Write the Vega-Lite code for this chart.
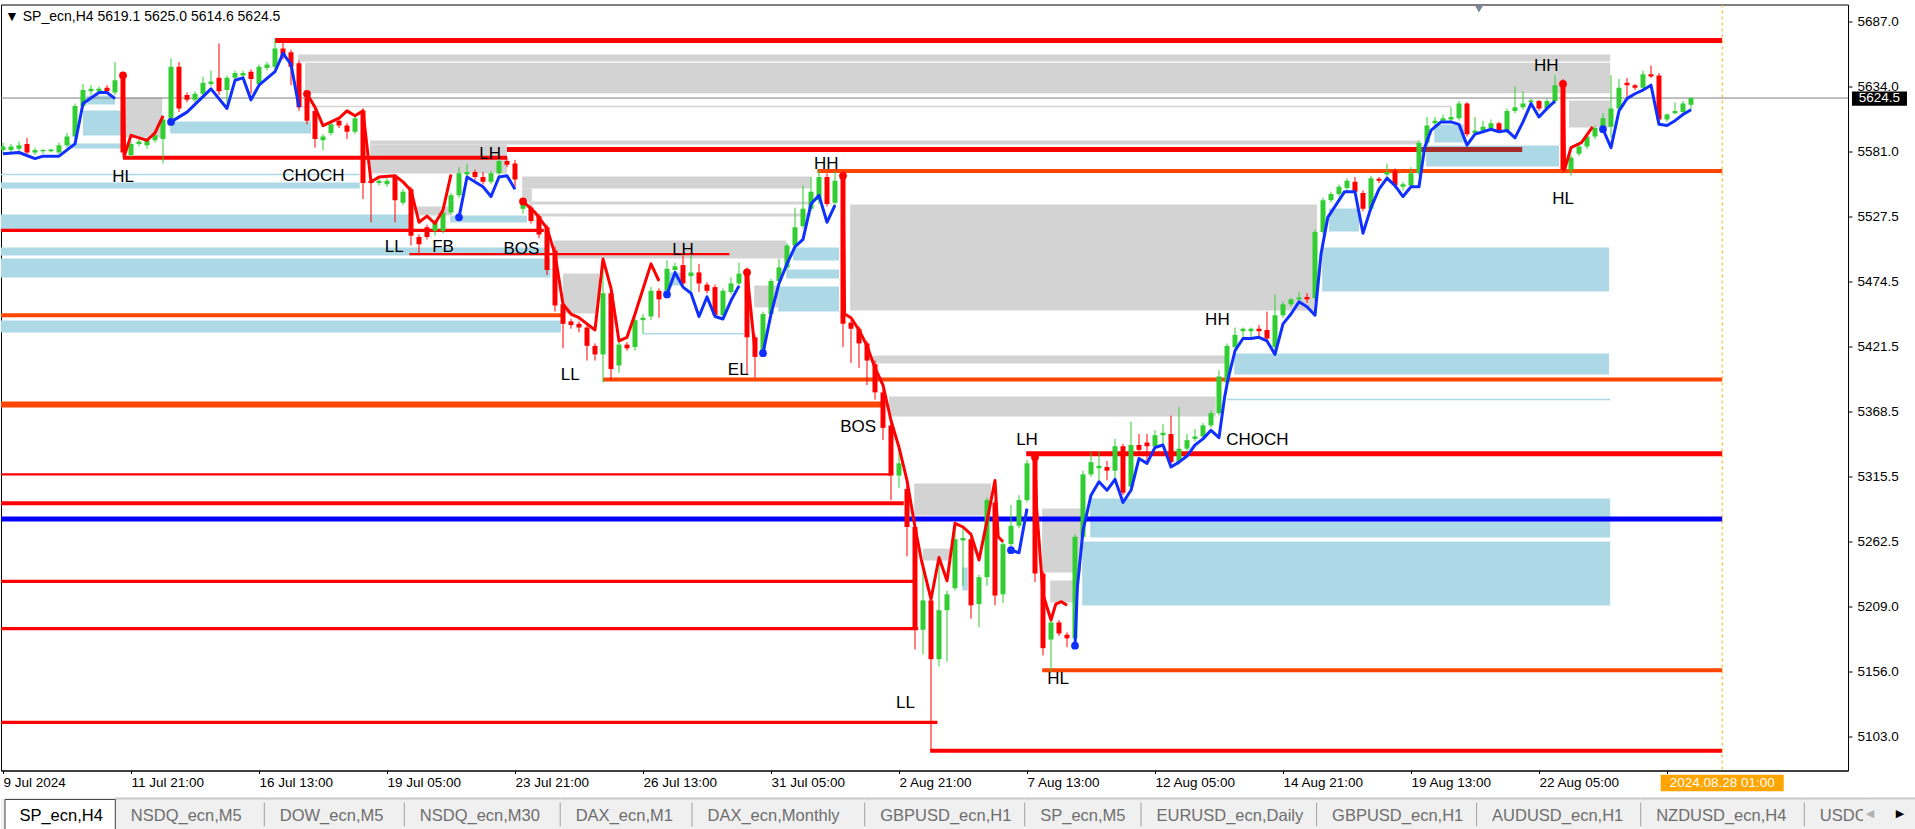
{
  "$schema": "https://vega.github.io/schema/vega-lite/v6.json",
  "autosize": {"type": "pad"},
  "padding": {"left": 0, "top": 3.5, "right": 0, "bottom": 0},
  "background": "#FFFFFF",
  "bounds": "flush",
  "spacing": 28,
  "config": {
    "font": "Liberation Sans",
    "view": {"stroke": null},
    "scale": {"continuousPadding": 0},
    "axis": {"grid": false, "labelFont": "Liberation Sans", "labelFontSize": 13.5, "labelColor": "#000000", "tickColor": "#000000", "domainColor": "#000000", "labelFlush": false, "labelOverlap": false, "labelBound": false},
    "text": {"font": "Liberation Sans"}
  },
  "datasets": {
    "bars": [
      {"i":0,"o":5582,"h":5588,"l":5579,"c":5585},{"i":1,"o":5582,"h":5587,"l":5580,"c":5585},{"i":2,"o":5583,"h":5589,"l":5581,"c":5586},{"i":3,"o":5587,"h":5592,"l":5578,"c":5580},{"i":4,"o":5580,"h":5584,"l":5578,"c":5582},{"i":5,"o":5581,"h":5583,"l":5579,"c":5582},{"i":6,"o":5581,"h":5583,"l":5580,"c":5582.5},{"i":7,"o":5580,"h":5588,"l":5579,"c":5586},{"i":8,"o":5586,"h":5596,"l":5585,"c":5593},{"i":9,"o":5593,"h":5620,"l":5591,"c":5618},
      {"i":10,"o":5618,"h":5636,"l":5616,"c":5631},{"i":11,"o":5630,"h":5635,"l":5627,"c":5632},{"i":12,"o":5630,"h":5634,"l":5628,"c":5632},{"i":13,"o":5633,"h":5635,"l":5628,"c":5630},{"i":14,"o":5629,"h":5654,"l":5627,"c":5639},{"i":15,"o":5640,"h":5643,"l":5576,"c":5580},{"i":16,"o":5578,"h":5589,"l":5576,"c":5587},{"i":17,"o":5587,"h":5591,"l":5585,"c":5589},{"i":18,"o":5586,"h":5591,"l":5583,"c":5590},{"i":19,"o":5590,"h":5596,"l":5588,"c":5594},
      {"i":20,"o":5591,"h":5610,"l":5571,"c":5607},{"i":21,"o":5608,"h":5657,"l":5606,"c":5650},{"i":22,"o":5650,"h":5654,"l":5613,"c":5616},{"i":23,"o":5627,"h":5629,"l":5621,"c":5623},{"i":24,"o":5623,"h":5630,"l":5621,"c":5628},{"i":25,"o":5628,"h":5642,"l":5626,"c":5637},{"i":26,"o":5636,"h":5647,"l":5634,"c":5638},{"i":27,"o":5641,"h":5669,"l":5627,"c":5630},{"i":28,"o":5631,"h":5643,"l":5620,"c":5641},{"i":29,"o":5641,"h":5647,"l":5639,"c":5645},
      {"i":30,"o":5643,"h":5647,"l":5641,"c":5645},{"i":31,"o":5646,"h":5648,"l":5628,"c":5640},{"i":32,"o":5636,"h":5652,"l":5634,"c":5650},{"i":33,"o":5649,"h":5654,"l":5647,"c":5652},{"i":34,"o":5650,"h":5673,"l":5648,"c":5665},{"i":35,"o":5665,"h":5670,"l":5656,"c":5659},{"i":36,"o":5662,"h":5664,"l":5635,"c":5650},{"i":37,"o":5653,"h":5655,"l":5614,"c":5617},{"i":38,"o":5625,"h":5627,"l":5603,"c":5606},{"i":39,"o":5614,"h":5616,"l":5584,"c":5591},
      {"i":40,"o":5590,"h":5595,"l":5582,"c":5593},{"i":41,"o":5596,"h":5605,"l":5594,"c":5603},{"i":42,"o":5606,"h":5608,"l":5600,"c":5602},{"i":43,"o":5602,"h":5604,"l":5591,"c":5597},{"i":44,"o":5597,"h":5610,"l":5595,"c":5608},{"i":45,"o":5614,"h":5616,"l":5542,"c":5555},{"i":46,"o":5557,"h":5558,"l":5523,"c":5555},{"i":47,"o":5555,"h":5559,"l":5553,"c":5557},{"i":48,"o":5554,"h":5559,"l":5552,"c":5557},{"i":49,"o":5561,"h":5562,"l":5523,"c":5541},
      {"i":50,"o":5539,"h":5550,"l":5537,"c":5548},{"i":51,"o":5550,"h":5552,"l":5504,"c":5512},{"i":52,"o":5511,"h":5513,"l":5497,"c":5505},{"i":53,"o":5519,"h":5521,"l":5509,"c":5511},{"i":54,"o":5516,"h":5525,"l":5512,"c":5523},{"i":55,"o":5516,"h":5533,"l":5514,"c":5531},{"i":56,"o":5531,"h":5547,"l":5529,"c":5545},{"i":57,"o":5545,"h":5568,"l":5543,"c":5563},{"i":58,"o":5562,"h":5571,"l":5560,"c":5564},{"i":59,"o":5564,"h":5566,"l":5558,"c":5560},
      {"i":60,"o":5560,"h":5564,"l":5554,"c":5556},{"i":61,"o":5556,"h":5565,"l":5554,"c":5563},{"i":62,"o":5563,"h":5575,"l":5561,"c":5573},{"i":63,"o":5573,"h":5576,"l":5568,"c":5570},{"i":64,"o":5571,"h":5574,"l":5552,"c":5558},{"i":65,"o":5534,"h":5540,"l":5530,"c":5537},{"i":66,"o":5535,"h":5537,"l":5522,"c":5524},{"i":67,"o":5528,"h":5530,"l":5510,"c":5513},{"i":68,"o":5519,"h":5521,"l":5480,"c":5484},{"i":69,"o":5500,"h":5503,"l":5450,"c":5455},
      {"i":70,"o":5456,"h":5459,"l":5420,"c":5440},{"i":71,"o":5442,"h":5444,"l":5436,"c":5439},{"i":72,"o":5440,"h":5442,"l":5433,"c":5437},{"i":73,"o":5437,"h":5439,"l":5410,"c":5422},{"i":74,"o":5422,"h":5424,"l":5410,"c":5415},{"i":75,"o":5415,"h":5493,"l":5392,"c":5465},{"i":76,"o":5465,"h":5467,"l":5394,"c":5403},{"i":77,"o":5406,"h":5425,"l":5400,"c":5423},{"i":78,"o":5423,"h":5425,"l":5418,"c":5420},{"i":79,"o":5421,"h":5446,"l":5418,"c":5443},
      {"i":80,"o":5443,"h":5448,"l":5432,"c":5445},{"i":81,"o":5446,"h":5470,"l":5443,"c":5467},{"i":82,"o":5467,"h":5469,"l":5445,"c":5460},{"i":83,"o":5467,"h":5492,"l":5465,"c":5485},{"i":84,"o":5484,"h":5490,"l":5482,"c":5487},{"i":85,"o":5488,"h":5496,"l":5470,"c":5473},{"i":86,"o":5479,"h":5496,"l":5466,"c":5482},{"i":87,"o":5482,"h":5489,"l":5466,"c":5473},{"i":88,"o":5472,"h":5474,"l":5465,"c":5467},{"i":89,"o":5470,"h":5472,"l":5445,"c":5447},
      {"i":90,"o":5447,"h":5469,"l":5445,"c":5467},{"i":91,"o":5466,"h":5478,"l":5464,"c":5473},{"i":92,"o":5473,"h":5490,"l":5471,"c":5481},{"i":93,"o":5484,"h":5486,"l":5399,"c":5429},{"i":94,"o":5429,"h":5431,"l":5396,"c":5413},{"i":95,"o":5415,"h":5450,"l":5413,"c":5448},{"i":96,"o":5448,"h":5477,"l":5446,"c":5475},{"i":97,"o":5475,"h":5493,"l":5473,"c":5486},{"i":98,"o":5486,"h":5506,"l":5484,"c":5504},{"i":99,"o":5504,"h":5535,"l":5502,"c":5519},
      {"i":100,"o":5520,"h":5553,"l":5518,"c":5534},{"i":101,"o":5534,"h":5560,"l":5532,"c":5548},{"i":102,"o":5541,"h":5566,"l":5538,"c":5560},{"i":103,"o":5560,"h":5563,"l":5536,"c":5538},{"i":104,"o":5539,"h":5565,"l":5537,"c":5557},{"i":105,"o":5561,"h":5565,"l":5421,"c":5440},{"i":106,"o":5441,"h":5443,"l":5408,"c":5436},{"i":107,"o":5436,"h":5438,"l":5404,"c":5424},{"i":108,"o":5424,"h":5426,"l":5390,"c":5410},{"i":109,"o":5407,"h":5410,"l":5378,"c":5384},
      {"i":110,"o":5384,"h":5387,"l":5345,"c":5355},{"i":111,"o":5357,"h":5360,"l":5296,"c":5316},{"i":112,"o":5316,"h":5340,"l":5306,"c":5326},{"i":113,"o":5305,"h":5308,"l":5250,"c":5274},{"i":114,"o":5274,"h":5276,"l":5174,"c":5192},{"i":115,"o":5190,"h":5242,"l":5170,"c":5214},{"i":116,"o":5214,"h":5216,"l":5091,"c":5166},{"i":117,"o":5166,"h":5250,"l":5160,"c":5206},{"i":118,"o":5206,"h":5222,"l":5164,"c":5219},{"i":119,"o":5224,"h":5278,"l":5222,"c":5264},
      {"i":120,"o":5263,"h":5275,"l":5226,"c":5265},{"i":121,"o":5264,"h":5266,"l":5199,"c":5210},{"i":122,"o":5211,"h":5235,"l":5192,"c":5233},{"i":123,"o":5233,"h":5298,"l":5226,"c":5296},{"i":124,"o":5294,"h":5296,"l":5210,"c":5218},{"i":125,"o":5219,"h":5262,"l":5212,"c":5260},{"i":126,"o":5260,"h":5292,"l":5258,"c":5275},{"i":127,"o":5275,"h":5300,"l":5273,"c":5296},{"i":128,"o":5296,"h":5329,"l":5294,"c":5326},{"i":129,"o":5331,"h":5334,"l":5229,"c":5236},
      {"i":130,"o":5236,"h":5238,"l":5169,"c":5175},{"i":131,"o":5182,"h":5199,"l":5156,"c":5196},{"i":132,"o":5196,"h":5198,"l":5185,"c":5187},{"i":133,"o":5186,"h":5188,"l":5176,"c":5183},{"i":134,"o":5183,"h":5268,"l":5181,"c":5266},{"i":135,"o":5266,"h":5320,"l":5264,"c":5317},{"i":136,"o":5317,"h":5335,"l":5315,"c":5327},{"i":137,"o":5322,"h":5336,"l":5312,"c":5324},{"i":138,"o":5323,"h":5328,"l":5312,"c":5320},{"i":139,"o":5320,"h":5346,"l":5312,"c":5340},
      {"i":140,"o":5340,"h":5342,"l":5300,"c":5302},{"i":141,"o":5307,"h":5360,"l":5305,"c":5341},{"i":142,"o":5341,"h":5350,"l":5335,"c":5337},{"i":143,"o":5343,"h":5350,"l":5327,"c":5340},{"i":144,"o":5340,"h":5353,"l":5338,"c":5349},{"i":145,"o":5349,"h":5358,"l":5341,"c":5351},{"i":146,"o":5350,"h":5365,"l":5325,"c":5327},{"i":147,"o":5327,"h":5372,"l":5325,"c":5338},{"i":148,"o":5338,"h":5350,"l":5336,"c":5345},{"i":149,"o":5346,"h":5354,"l":5344,"c":5348},
      {"i":150,"o":5348,"h":5359,"l":5346,"c":5357},{"i":151,"o":5357,"h":5369,"l":5355,"c":5367},{"i":152,"o":5367,"h":5402,"l":5365,"c":5397},{"i":153,"o":5392,"h":5424,"l":5389,"c":5422},{"i":154,"o":5421,"h":5437,"l":5419,"c":5431},{"i":155,"o":5434,"h":5437,"l":5428,"c":5436},{"i":156,"o":5434,"h":5437,"l":5429,"c":5436},{"i":157,"o":5436,"h":5439,"l":5428,"c":5434},{"i":158,"o":5435,"h":5450,"l":5426,"c":5428},{"i":159,"o":5421,"h":5464,"l":5419,"c":5447},
      {"i":160,"o":5447,"h":5458,"l":5445,"c":5456},{"i":161,"o":5456,"h":5461,"l":5454,"c":5460},{"i":162,"o":5460,"h":5466,"l":5457,"c":5461.5},{"i":163,"o":5462,"h":5465,"l":5457,"c":5460},{"i":164,"o":5461,"h":5517,"l":5459,"c":5515},{"i":165,"o":5515,"h":5543,"l":5513,"c":5541},{"i":166,"o":5541,"h":5548,"l":5539,"c":5546},{"i":167,"o":5546,"h":5554,"l":5544,"c":5552},{"i":168,"o":5551,"h":5559,"l":5549,"c":5557},{"i":169,"o":5556,"h":5560,"l":5546,"c":5548},
      {"i":170,"o":5547,"h":5549,"l":5532,"c":5534},{"i":171,"o":5534,"h":5561,"l":5532,"c":5559},{"i":172,"o":5558.5,"h":5560,"l":5555,"c":5557},{"i":173,"o":5562,"h":5571,"l":5560,"c":5564},{"i":174,"o":5565,"h":5567,"l":5551,"c":5553},{"i":175,"o":5552,"h":5556,"l":5549,"c":5554},{"i":176,"o":5553,"h":5568,"l":5551,"c":5563},{"i":177,"o":5563,"h":5590,"l":5561,"c":5588},{"i":178,"o":5588,"h":5609,"l":5586,"c":5602},{"i":179,"o":5604,"h":5609,"l":5602,"c":5606},
      {"i":180,"o":5606,"h":5611,"l":5605,"c":5608},{"i":181,"o":5607,"h":5617,"l":5605,"c":5609},{"i":182,"o":5608,"h":5622,"l":5606,"c":5620},{"i":183,"o":5620,"h":5621,"l":5593,"c":5595},{"i":184,"o":5596,"h":5609,"l":5594,"c":5598},{"i":185,"o":5598,"h":5606,"l":5596,"c":5601},{"i":186,"o":5600,"h":5607,"l":5598,"c":5604},{"i":187,"o":5604,"h":5605,"l":5596,"c":5598},{"i":188,"o":5598,"h":5616,"l":5596,"c":5614},{"i":189,"o":5614,"h":5634,"l":5612,"c":5617},
      {"i":190,"o":5617,"h":5630,"l":5615,"c":5620},{"i":191,"o":5621,"h":5624,"l":5619,"c":5622.5},{"i":192,"o":5622,"h":5623,"l":5614,"c":5616},{"i":193,"o":5616,"h":5624,"l":5614,"c":5622},{"i":194,"o":5622,"h":5643,"l":5620,"c":5635},{"i":195,"o":5635,"h":5640,"l":5563,"c":5566},{"i":196,"o":5566,"h":5578,"l":5561,"c":5576},{"i":197,"o":5579,"h":5587,"l":5577,"c":5585},{"i":198,"o":5585,"h":5595,"l":5583,"c":5593},{"i":199,"o":5593,"h":5602,"l":5591,"c":5600},
      {"i":200,"o":5600,"h":5612,"l":5598,"c":5608},{"i":201,"o":5601,"h":5643,"l":5592,"c":5616},{"i":202,"o":5616,"h":5640,"l":5614,"c":5633},{"i":203,"o":5637,"h":5641,"l":5625,"c":5635},{"i":204,"o":5635,"h":5636,"l":5631,"c":5633},{"i":205,"o":5633,"h":5647,"l":5631,"c":5644},{"i":206,"o":5644,"h":5651,"l":5641,"c":5642},{"i":207,"o":5643,"h":5645,"l":5605,"c":5607},{"i":208,"o":5607,"h":5612,"l":5605,"c":5611},{"i":209,"o":5612,"h":5621,"l":5611,"c":5614},
      {"i":210,"o":5613,"h":5622,"l":5611,"c":5620},{"i":211,"o":5619.1,"h":5625.0,"l":5614.6,"c":5624.5}
    ],
    "trend": [
      {"s":1,"t":"up","i":0,"p":5579},{"s":1,"t":"up","i":2,"p":5580},{"s":1,"t":"up","i":4,"p":5575},{"s":1,"t":"up","i":5,"p":5577},{"s":1,"t":"up","i":7,"p":5577},{"s":1,"t":"up","i":9,"p":5587},{"s":1,"t":"up","i":10,"p":5620},{"s":1,"t":"up","i":12,"p":5629},{"s":1,"t":"up","i":13,"p":5629},{"s":1,"t":"up","i":14,"p":5624},
      {"s":2,"t":"down","i":15,"p":5643},{"s":2,"t":"down","i":15.2,"p":5578},{"s":2,"t":"down","i":16,"p":5594},{"s":2,"t":"down","i":17,"p":5592},{"s":2,"t":"down","i":18,"p":5590},{"s":2,"t":"down","i":19,"p":5596},{"s":2,"t":"down","i":20,"p":5610},
      {"s":3,"t":"up","i":21,"p":5605},{"s":3,"t":"up","i":23,"p":5613},{"s":3,"t":"up","i":26,"p":5632},{"s":3,"t":"up","i":28,"p":5616},{"s":3,"t":"up","i":29,"p":5639},{"s":3,"t":"up","i":30,"p":5641},{"s":3,"t":"up","i":31,"p":5623},{"s":3,"t":"up","i":32,"p":5635},{"s":3,"t":"up","i":34,"p":5646},{"s":3,"t":"up","i":35,"p":5661},{"s":3,"t":"up","i":36,"p":5652},{"s":3,"t":"up","i":37,"p":5617},
      {"s":4,"t":"down","i":38,"p":5628},{"s":4,"t":"down","i":39,"p":5617},{"s":4,"t":"down","i":40,"p":5602},{"s":4,"t":"down","i":41,"p":5605},{"s":4,"t":"down","i":42,"p":5608},{"s":4,"t":"down","i":43,"p":5614},{"s":4,"t":"down","i":44,"p":5610},{"s":4,"t":"down","i":45,"p":5614},{"s":4,"t":"down","i":46,"p":5556},{"s":4,"t":"down","i":47,"p":5560},{"s":4,"t":"down","i":49,"p":5561},{"s":4,"t":"down","i":50,"p":5556},{"s":4,"t":"down","i":51,"p":5549},{"s":4,"t":"down","i":52,"p":5523},{"s":4,"t":"down","i":53,"p":5528},{"s":4,"t":"down","i":54,"p":5522},{"s":4,"t":"down","i":55,"p":5533},{"s":4,"t":"down","i":56,"p":5562},
      {"s":5,"t":"up","i":57,"p":5527},{"s":5,"t":"up","i":58,"p":5560},{"s":5,"t":"up","i":60,"p":5552},{"s":5,"t":"up","i":61,"p":5544},{"s":5,"t":"up","i":62,"p":5560},{"s":5,"t":"up","i":63,"p":5561},{"s":5,"t":"up","i":64,"p":5550},
      {"s":6,"t":"down","i":65,"p":5540},{"s":6,"t":"down","i":66.5,"p":5531},{"s":6,"t":"down","i":68,"p":5518},{"s":6,"t":"down","i":69,"p":5497},{"s":6,"t":"down","i":70,"p":5456},{"s":6,"t":"down","i":71,"p":5448},{"s":6,"t":"down","i":72,"p":5445},{"s":6,"t":"down","i":73,"p":5440},{"s":6,"t":"down","i":74,"p":5435},{"s":6,"t":"down","i":75,"p":5493},{"s":6,"t":"down","i":76,"p":5469},{"s":6,"t":"down","i":77,"p":5426},{"s":6,"t":"down","i":78,"p":5429},{"s":6,"t":"down","i":79,"p":5448},{"s":6,"t":"down","i":81,"p":5489},{"s":6,"t":"down","i":82,"p":5475},
      {"s":7,"t":"up","i":83,"p":5464},{"s":7,"t":"up","i":84,"p":5482},{"s":7,"t":"up","i":85,"p":5470},{"s":7,"t":"up","i":86,"p":5465},{"s":7,"t":"up","i":87,"p":5446},{"s":7,"t":"up","i":88,"p":5462},{"s":7,"t":"up","i":89,"p":5446},{"s":7,"t":"up","i":90,"p":5444},{"s":7,"t":"up","i":91,"p":5459},{"s":7,"t":"up","i":92,"p":5471},
      {"s":8,"t":"down","i":93,"p":5482},{"s":8,"t":"down","i":94,"p":5418},
      {"s":9,"t":"up","i":95,"p":5416},{"s":9,"t":"up","i":96,"p":5448},{"s":9,"t":"up","i":97,"p":5473},{"s":9,"t":"up","i":98,"p":5489},{"s":9,"t":"up","i":99,"p":5503},{"s":9,"t":"up","i":100,"p":5509},{"s":9,"t":"up","i":101,"p":5538},{"s":9,"t":"up","i":102,"p":5545},{"s":9,"t":"up","i":103,"p":5523},{"s":9,"t":"up","i":104,"p":5537},
      {"s":10,"t":"down","i":105,"p":5561},{"s":10,"t":"down","i":105.2,"p":5448},{"s":10,"t":"down","i":106,"p":5445},{"s":10,"t":"down","i":107,"p":5435},{"s":10,"t":"down","i":108,"p":5422},{"s":10,"t":"down","i":109,"p":5404},{"s":10,"t":"down","i":110,"p":5390},{"s":10,"t":"down","i":111,"p":5361},{"s":10,"t":"down","i":112,"p":5339},{"s":10,"t":"down","i":113,"p":5312},{"s":10,"t":"down","i":114,"p":5274},{"s":10,"t":"down","i":114.8,"p":5247},{"s":10,"t":"down","i":116,"p":5215},{"s":10,"t":"down","i":117,"p":5249},{"s":10,"t":"down","i":118,"p":5230},{"s":10,"t":"down","i":119,"p":5277},{"s":10,"t":"down","i":120,"p":5274},{"s":10,"t":"down","i":121,"p":5268},{"s":10,"t":"down","i":122,"p":5247},{"s":10,"t":"down","i":123,"p":5279},{"s":10,"t":"down","i":124,"p":5312},{"s":10,"t":"down","i":124.4,"p":5266},{"s":10,"t":"down","i":125,"p":5262},
      {"s":11,"t":"up","i":126,"p":5255},{"s":11,"t":"up","i":127,"p":5253},{"s":11,"t":"up","i":128,"p":5289},
      {"s":12,"t":"down","i":129,"p":5331},{"s":12,"t":"down","i":129.2,"p":5290},{"s":12,"t":"down","i":130,"p":5219},{"s":12,"t":"down","i":131,"p":5198},{"s":12,"t":"down","i":131.6,"p":5211},{"s":12,"t":"down","i":132.3,"p":5213},{"s":12,"t":"down","i":133,"p":5210},
      {"s":13,"t":"up","i":134,"p":5177},{"s":13,"t":"up","i":134.3,"p":5225},{"s":13,"t":"up","i":135,"p":5271},{"s":13,"t":"up","i":136,"p":5300},{"s":13,"t":"up","i":137,"p":5311},{"s":13,"t":"up","i":138,"p":5304},{"s":13,"t":"up","i":139,"p":5313},{"s":13,"t":"up","i":140,"p":5294},{"s":13,"t":"up","i":141,"p":5304},{"s":13,"t":"up","i":142,"p":5330},{"s":13,"t":"up","i":143,"p":5326},{"s":13,"t":"up","i":144,"p":5339},{"s":13,"t":"up","i":145,"p":5341},{"s":13,"t":"up","i":146,"p":5323},{"s":13,"t":"up","i":147,"p":5327},{"s":13,"t":"up","i":148,"p":5332},{"s":13,"t":"up","i":149,"p":5341},{"s":13,"t":"up","i":150,"p":5346},{"s":13,"t":"up","i":151,"p":5353},{"s":13,"t":"up","i":152,"p":5347},{"s":13,"t":"up","i":152.7,"p":5380},{"s":13,"t":"up","i":153.1,"p":5394},{"s":13,"t":"up","i":154,"p":5418},{"s":13,"t":"up","i":155,"p":5428},{"s":13,"t":"up","i":156,"p":5428},{"s":13,"t":"up","i":157,"p":5429},{"s":13,"t":"up","i":158,"p":5426},{"s":13,"t":"up","i":159,"p":5415},{"s":13,"t":"up","i":160,"p":5440},{"s":13,"t":"up","i":161,"p":5448},{"s":13,"t":"up","i":162,"p":5458},{"s":13,"t":"up","i":163,"p":5454},{"s":13,"t":"up","i":164,"p":5447},{"s":13,"t":"up","i":164.75,"p":5497},{"s":13,"t":"up","i":165.6,"p":5527},{"s":13,"t":"up","i":166.4,"p":5535},{"s":13,"t":"up","i":167.7,"p":5548},{"s":13,"t":"up","i":169,"p":5548},{"s":13,"t":"up","i":170,"p":5514},{"s":13,"t":"up","i":171,"p":5535},{"s":13,"t":"up","i":172,"p":5550},{"s":13,"t":"up","i":173,"p":5559},{"s":13,"t":"up","i":174,"p":5553},{"s":13,"t":"up","i":175,"p":5544},{"s":13,"t":"up","i":176,"p":5552},{"s":13,"t":"up","i":177,"p":5552},{"s":13,"t":"up","i":177.7,"p":5584},{"s":13,"t":"up","i":178.5,"p":5598},{"s":13,"t":"up","i":179.75,"p":5605},{"s":13,"t":"up","i":181,"p":5605},{"s":13,"t":"up","i":182,"p":5603},{"s":13,"t":"up","i":183,"p":5586},{"s":13,"t":"up","i":184,"p":5595},{"s":13,"t":"up","i":185,"p":5597},{"s":13,"t":"up","i":186,"p":5599},{"s":13,"t":"up","i":187,"p":5597},{"s":13,"t":"up","i":188,"p":5598},{"s":13,"t":"up","i":189,"p":5592},{"s":13,"t":"up","i":190,"p":5605},{"s":13,"t":"up","i":191,"p":5620},{"s":13,"t":"up","i":192,"p":5609},{"s":13,"t":"up","i":193,"p":5616},{"s":13,"t":"up","i":194,"p":5622},
      {"s":14,"t":"down","i":195,"p":5636},{"s":14,"t":"down","i":195.2,"p":5566},{"s":14,"t":"down","i":196,"p":5584},{"s":14,"t":"down","i":197.3,"p":5588},{"s":14,"t":"down","i":198.7,"p":5601},
      {"s":15,"t":"up","i":200,"p":5599},{"s":15,"t":"up","i":201,"p":5584},{"s":15,"t":"up","i":202,"p":5614},{"s":15,"t":"up","i":203,"p":5624},{"s":15,"t":"up","i":204,"p":5628},{"s":15,"t":"up","i":205,"p":5631},{"s":15,"t":"up","i":206,"p":5635},{"s":15,"t":"up","i":207,"p":5603},{"s":15,"t":"up","i":208,"p":5602},{"s":15,"t":"up","i":209,"p":5606},{"s":15,"t":"up","i":210,"p":5611},{"s":15,"t":"up","i":211,"p":5615}
    ],
    "dots": [
      {"t":"down","i":15,"p":5643},{"t":"down","i":38,"p":5628},{"t":"down","i":65,"p":5540},{"t":"down","i":93,"p":5482},{"t":"down","i":105,"p":5561},{"t":"down","i":129,"p":5331},{"t":"down","i":195,"p":5636},
      {"t":"up","i":21,"p":5605},{"t":"up","i":57,"p":5527},{"t":"up","i":83,"p":5464},{"t":"up","i":95,"p":5416},{"t":"up","i":126,"p":5255},{"t":"up","i":134,"p":5177},{"t":"up","i":200,"p":5599}
    ],
    "zones": [
      {"kind":"supply","i":36.9,"i2":200.9,"p":5660.1,"p2":5654.4},
      {"kind":"supply","i":37.75,"i2":200.9,"p":5653.3,"p2":5628.5},
      {"kind":"supply","i":15,"i2":19.9,"p":5625,"p2":5592.3},
      {"kind":"supply","i":45.9,"i2":177,"p":5589.8,"p2":5586.5},
      {"kind":"supply","i":45.9,"i2":63,"p":5586.5,"p2":5562.8},
      {"kind":"supply","i":51.75,"i2":55.9,"p":5535.9,"p2":5528.5},
      {"kind":"supply","i":64.9,"i2":101,"p":5560.4,"p2":5550.6},
      {"kind":"supply","i":64.9,"i2":66.1,"p":5550.6,"p2":5540},
      {"kind":"supply","i":65.75,"i2":101,"p":5540,"p2":5537.5},
      {"kind":"supply","i":66.4,"i2":101,"p":5530.2,"p2":5527.7},
      {"kind":"supply","i":68.9,"i2":97.9,"p":5508.1,"p2":5493.4},
      {"kind":"supply","i":70,"i2":74.5,"p":5481.1,"p2":5448.4},
      {"kind":"supply","i":93.9,"i2":96.9,"p":5471.3,"p2":5453.4},
      {"kind":"supply","i":105.9,"i2":164.25,"p":5537.5,"p2":5450.9},
      {"kind":"supply","i":108.75,"i2":152.75,"p":5414.1,"p2":5407.6},
      {"kind":"supply","i":110.75,"i2":151.6,"p":5380.6,"p2":5364.3},
      {"kind":"supply","i":113.9,"i2":123.5,"p":5309.5,"p2":5283.4},
      {"kind":"supply","i":115,"i2":118.5,"p":5256.4,"p2":5246.6},
      {"kind":"supply","i":129.9,"i2":134.75,"p":5289.1,"p2":5236.8},
      {"kind":"supply","i":130.9,"i2":133.75,"p":5230.3,"p2":5212.3},
      {"kind":"supply","i":195.75,"i2":200.9,"p":5622.5,"p2":5600.4},
      {"kind":"demand","i":10.5,"i2":14,"p":5626.6,"p2":5619.2},
      {"kind":"demand","i":10,"i2":15,"p":5614.3,"p2":5593.9},
      {"kind":"demand","i":7.9,"i2":15,"p":5587.4,"p2":5583.3},
      {"kind":"demand","i":20.9,"i2":38.5,"p":5605.3,"p2":5595.5},
      {"kind":"demand","i":-0.25,"i2":44.6,"p":5555.5,"p2":5550.6},
      {"kind":"demand","i":-0.25,"i2":50.75,"p":5529.3,"p2":5517.1},
      {"kind":"demand","i":-0.25,"i2":68.1,"p":5502.4,"p2":5495.8},
      {"kind":"demand","i":-0.25,"i2":68.4,"p":5493.4,"p2":5477.9},
      {"kind":"demand","i":55.9,"i2":65.5,"p":5528.5,"p2":5522.8},
      {"kind":"demand","i":-0.25,"i2":69.75,"p":5442.7,"p2":5432.9},
      {"kind":"demand","i":83.1,"i2":85,"p":5482,"p2":5471.3},
      {"kind":"demand","i":98.75,"i2":104.5,"p":5502.4,"p2":5491.8},
      {"kind":"demand","i":97.9,"i2":104.5,"p":5484.4,"p2":5477},
      {"kind":"demand","i":96.9,"i2":104.5,"p":5470.5,"p2":5450.1},
      {"kind":"demand","i":135.9,"i2":200.9,"p":5297.3,"p2":5265.4},
      {"kind":"demand","i":134.9,"i2":200.9,"p":5262.1,"p2":5209.9},
      {"kind":"demand","i":119.9,"i2":120.6,"p":5240.9,"p2":5222.1},
      {"kind":"demand","i":178.9,"i2":182.6,"p":5602.9,"p2":5588.2},
      {"kind":"demand","i":177.9,"i2":194.5,"p":5585.7,"p2":5568.6},
      {"kind":"demand","i":165.75,"i2":169.5,"p":5534.2,"p2":5515.4},
      {"kind":"demand","i":164.9,"i2":200.75,"p":5502.4,"p2":5466.4},
      {"kind":"demand","i":153.9,"i2":200.75,"p":5415.8,"p2":5398.6}
    ],
    "levels": [
      {"kind":"lblue","i":-0.25,"i2":44.6,"p":5562},
      {"kind":"lblue","i":80,"i2":92.6,"p":5431.9},
      {"kind":"lblue","i":153,"i2":200.9,"p":5378.2},
      {"kind":"lgray","i":37,"i2":181,"p":5617.6},
      {"kind":"red5","i":34,"i2":214.9,"p":5671.5},
      {"kind":"red5","i":63,"i2":177.25,"p":5582.4},
      {"kind":"red5","i":127.9,"i2":214.9,"p":5333.8},
      {"kind":"brown5","i":177.25,"i2":189.9,"p":5582.4},
      {"kind":"red4","i":15,"i2":63,"p":5575.7},
      {"kind":"red4","i":-0.25,"i2":112.6,"p":5293.4},
      {"kind":"red4","i":115.9,"i2":214.9,"p":5091.1},
      {"kind":"red3","i":-0.25,"i2":67.6,"p":5516.3},
      {"kind":"red3","i":-0.25,"i2":113.8,"p":5229.5},
      {"kind":"red3","i":-0.25,"i2":114.4,"p":5191},
      {"kind":"red3","i":-0.25,"i2":116.8,"p":5114.3},
      {"kind":"red2","i":50.8,"i2":90.8,"p":5497},
      {"kind":"red2","i":-0.25,"i2":110.9,"p":5317},
      {"kind":"org4","i":101.8,"i2":214.9,"p":5564.8},
      {"kind":"org4","i":-0.25,"i2":69.8,"p":5447},
      {"kind":"org4","i":75,"i2":214.9,"p":5394.5},
      {"kind":"org4","i":129.9,"i2":214.9,"p":5157},
      {"kind":"org6","i":-0.25,"i2":109.9,"p":5374},
      {"kind":"blue5","i":-0.25,"i2":214.9,"p":5280.6}
    ],
    "labels": [
      {"t":"HL","i":15,"p":5560},{"t":"CHOCH","i":38.8,"p":5561},{"t":"LL","i":48.9,"p":5503},{"t":"FB","i":55,"p":5503},{"t":"LH","i":60.9,"p":5579},{"t":"BOS","i":64.8,"p":5501},
      {"t":"LH","i":85,"p":5500},{"t":"HH","i":102.9,"p":5571},{"t":"LL","i":70.9,"p":5398},{"t":"EL","i":91.9,"p":5402},{"t":"BOS","i":106.9,"p":5356},{"t":"LL","i":112.8,"p":5130},
      {"t":"LH","i":128,"p":5345},{"t":"HL","i":131.9,"p":5150},{"t":"CHOCH","i":156.8,"p":5345},{"t":"HH","i":151.8,"p":5443},{"t":"HH","i":192.9,"p":5651},{"t":"HL","i":195,"p":5542}
    ],
    "header": [{"t": "▼ SP_ecn,H4  5619.1 5625.0 5614.6 5624.5"}],
    "last": [{"p": 5624.5}],
    "cursor": [{"i": 214.9, "label": "2024.08.28 01:00"}],
    "marker": [{"i": 184.5}],
    "tabs": [
      {"n":0,"tab":"","w":4,"kind":"spacer"},
      {"n":1,"tab":"SP_ecn,H4","w":110.3,"kind":"active"},
      {"n":2,"tab":"NSDQ_ecn,M5","w":149,"kind":"tab"},
      {"n":3,"tab":"DOW_ecn,M5","w":140,"kind":"tab"},
      {"n":4,"tab":"NSDQ_ecn,M30","w":155.9,"kind":"tab"},
      {"n":5,"tab":"DAX_ecn,M1","w":131.8,"kind":"tab"},
      {"n":6,"tab":"DAX_ecn,Monthly","w":172.7,"kind":"tab"},
      {"n":7,"tab":"GBPUSD_ecn,H1","w":160,"kind":"tab"},
      {"n":8,"tab":"SP_ecn,M5","w":116.3,"kind":"tab"},
      {"n":9,"tab":"EURUSD_ecn,Daily","w":175.6,"kind":"tab"},
      {"n":10,"tab":"GBPUSD_ecn,H1","w":160,"kind":"tab"},
      {"n":11,"tab":"AUDUSD_ecn,H1","w":164.1,"kind":"tab"},
      {"n":12,"tab":"NZDUSD_ecn,H4","w":163.6,"kind":"tab"},
      {"n":13,"tab":"USDC","w":58.7,"kind":"cut"},
      {"n":14,"tab":"◀","w":14,"kind":"arrowoff"},
      {"n":15,"tab":"▶","w":38,"kind":"arrowon"}
    ]
  },
  "vconcat": [
    {
      "width": 1847,
      "height": 766,
      "view": {"stroke": "#000000", "strokeWidth": 1},
      "layer": [
        {
          "data": {"name": "zones"},
          "mark": {"type": "rect", "clip": true},
          "encoding": {
            "x": {"field": "i", "type": "quantitative", "scale": {"domain": [-0.25, 230.625], "nice": false, "zero": false, "padding": 0},
              "axis": {"orient": "bottom", "title": null, "values": [0,16,32,48,64,80,96,112,128,144,160,176,192,208],
                "labelExpr": "['9 Jul 2024','11 Jul 21:00','16 Jul 13:00','19 Jul 05:00','23 Jul 21:00','26 Jul 13:00','31 Jul 05:00','2 Aug 21:00','7 Aug 13:00','12 Aug 05:00','14 Aug 21:00','19 Aug 13:00','22 Aug 05:00',''][round(datum.value/16)]",
                "labelAlign": "left", "labelBaseline": "middle", "labelPadding": 9, "tickSize": 3}},
            "x2": {"field": "i2"},
            "y": {"field": "p", "type": "quantitative", "scale": {"domain": [5075.03, 5700.93], "nice": false, "zero": false, "padding": 0},
              "axis": {"orient": "right", "title": null, "values": [5103, 5156, 5209, 5262.5, 5315.5, 5368.5, 5421.5, 5474.5, 5527.5, 5581, 5634, 5687], "format": ".1f",
                "labelAlign": "left", "labelBaseline": "middle", "labelPadding": 5, "tickSize": 4}},
            "y2": {"field": "p2"},
            "color": {"condition": {"test": "datum.kind === 'supply'", "value": "#D3D3D3"}, "value": "#ADD8E6"}
          }
        },
        {
          "data": {"name": "levels"},
          "mark": {"type": "rule", "clip": true},
          "encoding": {
            "x": {"field": "i", "type": "quantitative", "scale": {"domain": [-0.25, 230.625], "nice": false, "zero": false, "padding": 0},
              "axis": {"orient": "bottom", "title": null, "values": [0,16,32,48,64,80,96,112,128,144,160,176,192,208],
                "labelExpr": "['9 Jul 2024','11 Jul 21:00','16 Jul 13:00','19 Jul 05:00','23 Jul 21:00','26 Jul 13:00','31 Jul 05:00','2 Aug 21:00','7 Aug 13:00','12 Aug 05:00','14 Aug 21:00','19 Aug 13:00','22 Aug 05:00',''][round(datum.value/16)]",
                "labelAlign": "left", "labelBaseline": "middle", "labelPadding": 9, "tickSize": 3}},
            "x2": {"field": "i2"},
            "y": {"field": "p", "type": "quantitative", "scale": {"domain": [5075.03, 5700.93], "nice": false, "zero": false, "padding": 0},
              "axis": {"orient": "right", "title": null, "values": [5103, 5156, 5209, 5262.5, 5315.5, 5368.5, 5421.5, 5474.5, 5527.5, 5581, 5634, 5687], "format": ".1f",
                "labelAlign": "left", "labelBaseline": "middle", "labelPadding": 5, "tickSize": 4}},
            "color": {"condition": [
              {"test": "datum.kind === 'org4' || datum.kind === 'org6'", "value": "#FF4500"},
              {"test": "datum.kind === 'blue5'", "value": "#0000FF"},
              {"test": "datum.kind === 'brown5'", "value": "#A52A2A"},
              {"test": "datum.kind === 'lblue'", "value": "#ADD8E6"},
              {"test": "datum.kind === 'lgray'", "value": "#D3D3D3"}
            ], "value": "#FF0000"},
            "strokeWidth": {"condition": [
              {"test": "datum.kind === 'red5' || datum.kind === 'brown5' || datum.kind === 'blue5'", "value": 5},
              {"test": "datum.kind === 'red4' || datum.kind === 'org4'", "value": 4},
              {"test": "datum.kind === 'red3'", "value": 3.3},
              {"test": "datum.kind === 'red2'", "value": 2.3},
              {"test": "datum.kind === 'org6'", "value": 6}
            ], "value": 1.5}
          }
        },
        {
          "data": {"name": "last"},
          "mark": {"type": "rule", "color": "#808080", "strokeWidth": 1, "clip": true},
          "encoding": {
            "y": {"field": "p", "type": "quantitative", "scale": {"domain": [5075.03, 5700.93], "nice": false, "zero": false, "padding": 0},
              "axis": {"orient": "right", "title": null, "values": [5103, 5156, 5209, 5262.5, 5315.5, 5368.5, 5421.5, 5474.5, 5527.5, 5581, 5634, 5687], "format": ".1f",
                "labelAlign": "left", "labelBaseline": "middle", "labelPadding": 5, "tickSize": 4}}
          }
        },
        {
          "data": {"name": "cursor"},
          "mark": {"type": "rule", "color": "#FFA500", "strokeWidth": 1, "strokeDash": [3, 3], "clip": true},
          "encoding": {
            "x": {"field": "i", "type": "quantitative", "scale": {"domain": [-0.25, 230.625], "nice": false, "zero": false, "padding": 0},
              "axis": {"orient": "bottom", "title": null, "values": [0,16,32,48,64,80,96,112,128,144,160,176,192,208],
                "labelExpr": "['9 Jul 2024','11 Jul 21:00','16 Jul 13:00','19 Jul 05:00','23 Jul 21:00','26 Jul 13:00','31 Jul 05:00','2 Aug 21:00','7 Aug 13:00','12 Aug 05:00','14 Aug 21:00','19 Aug 13:00','22 Aug 05:00',''][round(datum.value/16)]",
                "labelAlign": "left", "labelBaseline": "middle", "labelPadding": 9, "tickSize": 3}}
          }
        },
        {
          "data": {"name": "bars"},
          "mark": {"type": "rule", "strokeWidth": 1, "clip": true},
          "encoding": {
            "x": {"field": "i", "type": "quantitative", "scale": {"domain": [-0.25, 230.625], "nice": false, "zero": false, "padding": 0},
              "axis": {"orient": "bottom", "title": null, "values": [0,16,32,48,64,80,96,112,128,144,160,176,192,208],
                "labelExpr": "['9 Jul 2024','11 Jul 21:00','16 Jul 13:00','19 Jul 05:00','23 Jul 21:00','26 Jul 13:00','31 Jul 05:00','2 Aug 21:00','7 Aug 13:00','12 Aug 05:00','14 Aug 21:00','19 Aug 13:00','22 Aug 05:00',''][round(datum.value/16)]",
                "labelAlign": "left", "labelBaseline": "middle", "labelPadding": 9, "tickSize": 3}},
            "y": {"field": "l", "type": "quantitative", "scale": {"domain": [5075.03, 5700.93], "nice": false, "zero": false, "padding": 0},
              "axis": {"orient": "right", "title": null, "values": [5103, 5156, 5209, 5262.5, 5315.5, 5368.5, 5421.5, 5474.5, 5527.5, 5581, 5634, 5687], "format": ".1f",
                "labelAlign": "left", "labelBaseline": "middle", "labelPadding": 5, "tickSize": 4}},
            "y2": {"field": "h"},
            "color": {"condition": {"test": "datum.c >= datum.o", "value": "#32CD32"}, "value": "#FF0000"}
          }
        },
        {
          "data": {"name": "bars"},
          "mark": {"type": "bar", "size": 5, "clip": true},
          "encoding": {
            "x": {"field": "i", "type": "quantitative", "scale": {"domain": [-0.25, 230.625], "nice": false, "zero": false, "padding": 0},
              "axis": {"orient": "bottom", "title": null, "values": [0,16,32,48,64,80,96,112,128,144,160,176,192,208],
                "labelExpr": "['9 Jul 2024','11 Jul 21:00','16 Jul 13:00','19 Jul 05:00','23 Jul 21:00','26 Jul 13:00','31 Jul 05:00','2 Aug 21:00','7 Aug 13:00','12 Aug 05:00','14 Aug 21:00','19 Aug 13:00','22 Aug 05:00',''][round(datum.value/16)]",
                "labelAlign": "left", "labelBaseline": "middle", "labelPadding": 9, "tickSize": 3}},
            "y": {"field": "o", "type": "quantitative", "scale": {"domain": [5075.03, 5700.93], "nice": false, "zero": false, "padding": 0},
              "axis": {"orient": "right", "title": null, "values": [5103, 5156, 5209, 5262.5, 5315.5, 5368.5, 5421.5, 5474.5, 5527.5, 5581, 5634, 5687], "format": ".1f",
                "labelAlign": "left", "labelBaseline": "middle", "labelPadding": 5, "tickSize": 4}},
            "y2": {"field": "c"},
            "color": {"condition": {"test": "datum.c >= datum.o", "value": "#32CD32"}, "value": "#FF0000"}
          }
        },
        {
          "data": {"name": "trend"},
          "transform": [{"filter": "datum.t === 'down'"}],
          "mark": {"type": "line", "color": "#FF0000", "strokeWidth": 3, "strokeJoin": "round", "clip": true},
          "encoding": {
            "x": {"field": "i", "type": "quantitative", "scale": {"domain": [-0.25, 230.625], "nice": false, "zero": false, "padding": 0},
              "axis": {"orient": "bottom", "title": null, "values": [0,16,32,48,64,80,96,112,128,144,160,176,192,208],
                "labelExpr": "['9 Jul 2024','11 Jul 21:00','16 Jul 13:00','19 Jul 05:00','23 Jul 21:00','26 Jul 13:00','31 Jul 05:00','2 Aug 21:00','7 Aug 13:00','12 Aug 05:00','14 Aug 21:00','19 Aug 13:00','22 Aug 05:00',''][round(datum.value/16)]",
                "labelAlign": "left", "labelBaseline": "middle", "labelPadding": 9, "tickSize": 3}},
            "y": {"field": "p", "type": "quantitative", "scale": {"domain": [5075.03, 5700.93], "nice": false, "zero": false, "padding": 0},
              "axis": {"orient": "right", "title": null, "values": [5103, 5156, 5209, 5262.5, 5315.5, 5368.5, 5421.5, 5474.5, 5527.5, 5581, 5634, 5687], "format": ".1f",
                "labelAlign": "left", "labelBaseline": "middle", "labelPadding": 5, "tickSize": 4}},
            "detail": {"field": "s", "type": "nominal"}
          }
        },
        {
          "data": {"name": "trend"},
          "transform": [{"filter": "datum.t === 'up'"}],
          "mark": {"type": "line", "color": "#1030FF", "strokeWidth": 3, "strokeJoin": "round", "clip": true},
          "encoding": {
            "x": {"field": "i", "type": "quantitative", "scale": {"domain": [-0.25, 230.625], "nice": false, "zero": false, "padding": 0},
              "axis": {"orient": "bottom", "title": null, "values": [0,16,32,48,64,80,96,112,128,144,160,176,192,208],
                "labelExpr": "['9 Jul 2024','11 Jul 21:00','16 Jul 13:00','19 Jul 05:00','23 Jul 21:00','26 Jul 13:00','31 Jul 05:00','2 Aug 21:00','7 Aug 13:00','12 Aug 05:00','14 Aug 21:00','19 Aug 13:00','22 Aug 05:00',''][round(datum.value/16)]",
                "labelAlign": "left", "labelBaseline": "middle", "labelPadding": 9, "tickSize": 3}},
            "y": {"field": "p", "type": "quantitative", "scale": {"domain": [5075.03, 5700.93], "nice": false, "zero": false, "padding": 0},
              "axis": {"orient": "right", "title": null, "values": [5103, 5156, 5209, 5262.5, 5315.5, 5368.5, 5421.5, 5474.5, 5527.5, 5581, 5634, 5687], "format": ".1f",
                "labelAlign": "left", "labelBaseline": "middle", "labelPadding": 5, "tickSize": 4}},
            "detail": {"field": "s", "type": "nominal"}
          }
        },
        {
          "data": {"name": "dots"},
          "mark": {"type": "circle", "size": 60, "opacity": 1},
          "encoding": {
            "x": {"field": "i", "type": "quantitative", "scale": {"domain": [-0.25, 230.625], "nice": false, "zero": false, "padding": 0},
              "axis": {"orient": "bottom", "title": null, "values": [0,16,32,48,64,80,96,112,128,144,160,176,192,208],
                "labelExpr": "['9 Jul 2024','11 Jul 21:00','16 Jul 13:00','19 Jul 05:00','23 Jul 21:00','26 Jul 13:00','31 Jul 05:00','2 Aug 21:00','7 Aug 13:00','12 Aug 05:00','14 Aug 21:00','19 Aug 13:00','22 Aug 05:00',''][round(datum.value/16)]",
                "labelAlign": "left", "labelBaseline": "middle", "labelPadding": 9, "tickSize": 3}},
            "y": {"field": "p", "type": "quantitative", "scale": {"domain": [5075.03, 5700.93], "nice": false, "zero": false, "padding": 0},
              "axis": {"orient": "right", "title": null, "values": [5103, 5156, 5209, 5262.5, 5315.5, 5368.5, 5421.5, 5474.5, 5527.5, 5581, 5634, 5687], "format": ".1f",
                "labelAlign": "left", "labelBaseline": "middle", "labelPadding": 5, "tickSize": 4}},
            "color": {"condition": {"test": "datum.t === 'up'", "value": "#1030FF"}, "value": "#FF0000"}
          }
        },
        {
          "data": {"name": "labels"},
          "mark": {"type": "text", "fontSize": 17, "font": "Liberation Sans", "color": "#000000", "align": "center", "baseline": "middle"},
          "encoding": {
            "x": {"field": "i", "type": "quantitative", "scale": {"domain": [-0.25, 230.625], "nice": false, "zero": false, "padding": 0},
              "axis": {"orient": "bottom", "title": null, "values": [0,16,32,48,64,80,96,112,128,144,160,176,192,208],
                "labelExpr": "['9 Jul 2024','11 Jul 21:00','16 Jul 13:00','19 Jul 05:00','23 Jul 21:00','26 Jul 13:00','31 Jul 05:00','2 Aug 21:00','7 Aug 13:00','12 Aug 05:00','14 Aug 21:00','19 Aug 13:00','22 Aug 05:00',''][round(datum.value/16)]",
                "labelAlign": "left", "labelBaseline": "middle", "labelPadding": 9, "tickSize": 3}},
            "y": {"field": "p", "type": "quantitative", "scale": {"domain": [5075.03, 5700.93], "nice": false, "zero": false, "padding": 0},
              "axis": {"orient": "right", "title": null, "values": [5103, 5156, 5209, 5262.5, 5315.5, 5368.5, 5421.5, 5474.5, 5527.5, 5581, 5634, 5687], "format": ".1f",
                "labelAlign": "left", "labelBaseline": "middle", "labelPadding": 5, "tickSize": 4}},
            "text": {"field": "t"}
          }
        },
        {
          "data": {"name": "header"},
          "mark": {"type": "text", "fontSize": 14, "font": "Liberation Sans", "color": "#000000", "align": "left", "baseline": "middle"},
          "encoding": {
            "x": {"datum": 0.25, "type": "quantitative", "scale": {"domain": [-0.25, 230.625], "nice": false, "zero": false, "padding": 0},
              "axis": {"orient": "bottom", "title": null, "values": [0,16,32,48,64,80,96,112,128,144,160,176,192,208],
                "labelExpr": "['9 Jul 2024','11 Jul 21:00','16 Jul 13:00','19 Jul 05:00','23 Jul 21:00','26 Jul 13:00','31 Jul 05:00','2 Aug 21:00','7 Aug 13:00','12 Aug 05:00','14 Aug 21:00','19 Aug 13:00','22 Aug 05:00',''][round(datum.value/16)]",
                "labelAlign": "left", "labelBaseline": "middle", "labelPadding": 9, "tickSize": 3}},
            "y": {"datum": 5691.1, "type": "quantitative", "scale": {"domain": [5075.03, 5700.93], "nice": false, "zero": false, "padding": 0},
              "axis": {"orient": "right", "title": null, "values": [5103, 5156, 5209, 5262.5, 5315.5, 5368.5, 5421.5, 5474.5, 5527.5, 5581, 5634, 5687], "format": ".1f",
                "labelAlign": "left", "labelBaseline": "middle", "labelPadding": 5, "tickSize": 4}},
            "text": {"field": "t"}
          }
        },
        {
          "data": {"name": "last"},
          "mark": {"type": "point", "shape": "M-1,-0.24H1V0.28H-1Z", "size": 3025, "filled": true, "color": "#000000", "opacity": 1, "strokeWidth": 0},
          "encoding": {
            "x": {"datum": 234.56, "type": "quantitative", "scale": {"domain": [-0.25, 230.625], "nice": false, "zero": false, "padding": 0},
              "axis": {"orient": "bottom", "title": null, "values": [0,16,32,48,64,80,96,112,128,144,160,176,192,208],
                "labelExpr": "['9 Jul 2024','11 Jul 21:00','16 Jul 13:00','19 Jul 05:00','23 Jul 21:00','26 Jul 13:00','31 Jul 05:00','2 Aug 21:00','7 Aug 13:00','12 Aug 05:00','14 Aug 21:00','19 Aug 13:00','22 Aug 05:00',''][round(datum.value/16)]",
                "labelAlign": "left", "labelBaseline": "middle", "labelPadding": 9, "tickSize": 3}},
            "y": {"field": "p", "type": "quantitative", "scale": {"domain": [5075.03, 5700.93], "nice": false, "zero": false, "padding": 0},
              "axis": {"orient": "right", "title": null, "values": [5103, 5156, 5209, 5262.5, 5315.5, 5368.5, 5421.5, 5474.5, 5527.5, 5581, 5634, 5687], "format": ".1f",
                "labelAlign": "left", "labelBaseline": "middle", "labelPadding": 5, "tickSize": 4}}
          }
        },
        {
          "data": {"name": "last"},
          "mark": {"type": "text", "fontSize": 13.5, "font": "Liberation Sans", "color": "#FFFFFF", "align": "center", "baseline": "middle"},
          "encoding": {
            "x": {"datum": 234.56, "type": "quantitative", "scale": {"domain": [-0.25, 230.625], "nice": false, "zero": false, "padding": 0},
              "axis": {"orient": "bottom", "title": null, "values": [0,16,32,48,64,80,96,112,128,144,160,176,192,208],
                "labelExpr": "['9 Jul 2024','11 Jul 21:00','16 Jul 13:00','19 Jul 05:00','23 Jul 21:00','26 Jul 13:00','31 Jul 05:00','2 Aug 21:00','7 Aug 13:00','12 Aug 05:00','14 Aug 21:00','19 Aug 13:00','22 Aug 05:00',''][round(datum.value/16)]",
                "labelAlign": "left", "labelBaseline": "middle", "labelPadding": 9, "tickSize": 3}},
            "y": {"field": "p", "type": "quantitative", "scale": {"domain": [5075.03, 5700.93], "nice": false, "zero": false, "padding": 0},
              "axis": {"orient": "right", "title": null, "values": [5103, 5156, 5209, 5262.5, 5315.5, 5368.5, 5421.5, 5474.5, 5527.5, 5581, 5634, 5687], "format": ".1f",
                "labelAlign": "left", "labelBaseline": "middle", "labelPadding": 5, "tickSize": 4}},
            "text": {"field": "p", "type": "quantitative", "format": ".1f"}
          }
        },
        {
          "data": {"name": "cursor"},
          "mark": {"type": "point", "shape": "M-1,-0.133H1V0.133H-1Z", "size": 15129, "filled": true, "color": "#FFA500", "opacity": 1, "strokeWidth": 0},
          "encoding": {
            "x": {"field": "i", "type": "quantitative", "scale": {"domain": [-0.25, 230.625], "nice": false, "zero": false, "padding": 0},
              "axis": {"orient": "bottom", "title": null, "values": [0,16,32,48,64,80,96,112,128,144,160,176,192,208],
                "labelExpr": "['9 Jul 2024','11 Jul 21:00','16 Jul 13:00','19 Jul 05:00','23 Jul 21:00','26 Jul 13:00','31 Jul 05:00','2 Aug 21:00','7 Aug 13:00','12 Aug 05:00','14 Aug 21:00','19 Aug 13:00','22 Aug 05:00',''][round(datum.value/16)]",
                "labelAlign": "left", "labelBaseline": "middle", "labelPadding": 9, "tickSize": 3}},
            "y": {"datum": 5064.8, "type": "quantitative", "scale": {"domain": [5075.03, 5700.93], "nice": false, "zero": false, "padding": 0},
              "axis": {"orient": "right", "title": null, "values": [5103, 5156, 5209, 5262.5, 5315.5, 5368.5, 5421.5, 5474.5, 5527.5, 5581, 5634, 5687], "format": ".1f",
                "labelAlign": "left", "labelBaseline": "middle", "labelPadding": 5, "tickSize": 4}}
          }
        },
        {
          "data": {"name": "cursor"},
          "mark": {"type": "text", "fontSize": 13.5, "font": "Liberation Sans", "color": "#FFFFFF", "align": "center", "baseline": "middle"},
          "encoding": {
            "x": {"field": "i", "type": "quantitative", "scale": {"domain": [-0.25, 230.625], "nice": false, "zero": false, "padding": 0},
              "axis": {"orient": "bottom", "title": null, "values": [0,16,32,48,64,80,96,112,128,144,160,176,192,208],
                "labelExpr": "['9 Jul 2024','11 Jul 21:00','16 Jul 13:00','19 Jul 05:00','23 Jul 21:00','26 Jul 13:00','31 Jul 05:00','2 Aug 21:00','7 Aug 13:00','12 Aug 05:00','14 Aug 21:00','19 Aug 13:00','22 Aug 05:00',''][round(datum.value/16)]",
                "labelAlign": "left", "labelBaseline": "middle", "labelPadding": 9, "tickSize": 3}},
            "y": {"datum": 5064.8, "type": "quantitative", "scale": {"domain": [5075.03, 5700.93], "nice": false, "zero": false, "padding": 0},
              "axis": {"orient": "right", "title": null, "values": [5103, 5156, 5209, 5262.5, 5315.5, 5368.5, 5421.5, 5474.5, 5527.5, 5581, 5634, 5687], "format": ".1f",
                "labelAlign": "left", "labelBaseline": "middle", "labelPadding": 5, "tickSize": 4}},
            "text": {"field": "label"}
          }
        },
        {
          "data": {"name": "marker"},
          "mark": {"type": "point", "shape": "triangle-down", "filled": true, "color": "#7B8794", "size": 70, "opacity": 1},
          "encoding": {
            "x": {"field": "i", "type": "quantitative", "scale": {"domain": [-0.25, 230.625], "nice": false, "zero": false, "padding": 0},
              "axis": {"orient": "bottom", "title": null, "values": [0,16,32,48,64,80,96,112,128,144,160,176,192,208],
                "labelExpr": "['9 Jul 2024','11 Jul 21:00','16 Jul 13:00','19 Jul 05:00','23 Jul 21:00','26 Jul 13:00','31 Jul 05:00','2 Aug 21:00','7 Aug 13:00','12 Aug 05:00','14 Aug 21:00','19 Aug 13:00','22 Aug 05:00',''][round(datum.value/16)]",
                "labelAlign": "left", "labelBaseline": "middle", "labelPadding": 9, "tickSize": 3}},
            "y": {"datum": 5697.3, "type": "quantitative", "scale": {"domain": [5075.03, 5700.93], "nice": false, "zero": false, "padding": 0},
              "axis": {"orient": "right", "title": null, "values": [5103, 5156, 5209, 5262.5, 5315.5, 5368.5, 5421.5, 5474.5, 5527.5, 5581, 5634, 5687], "format": ".1f",
                "labelAlign": "left", "labelBaseline": "middle", "labelPadding": 5, "tickSize": 4}}
          }
        }
      ]
    },
    {
      "width": 1847,
      "height": 31,
      "view": {"stroke": null},
      "data": {"name": "tabs"},
      "transform": [{"stack": "w", "groupby": [], "sort": [{"field": "n", "order": "ascending"}], "as": ["x0", "x1"]}],
      "layer": [
        {
          "mark": {"type": "rect", "color": "#F0F0F0"},
          "encoding": {
            "x": {"field": "x0", "type": "quantitative", "scale": {"domain": [0, 1847], "nice": false, "zero": false, "padding": 0}, "axis": null},
            "x2": {"field": "x1"},
            "y": {"datum": 0, "type": "quantitative", "scale": {"domain": [0, 1], "nice": false, "zero": false, "padding": 0}, "axis": null},
            "y2": {"datum": 1}
          }
        },
        {
          "transform": [{"filter": "datum.kind !== 'active' && datum.kind !== 'spacer'"}],
          "mark": {"type": "rule", "color": "#C8C8C8", "strokeWidth": 2},
          "encoding": {
            "x": {"field": "x0", "type": "quantitative", "axis": null},
            "x2": {"field": "x1"},
            "y": {"datum": 1, "type": "quantitative", "axis": null}
          }
        },
        {
          "transform": [{"filter": "datum.kind === 'active'"}],
          "mark": {"type": "rect", "fill": "#FFFFFF", "stroke": "#3C3C3C", "strokeWidth": 1},
          "encoding": {
            "x": {"field": "x0", "type": "quantitative", "axis": null},
            "x2": {"field": "x1"},
            "y": {"datum": 0, "type": "quantitative", "axis": null},
            "y2": {"datum": 0.97}
          }
        },
        {
          "transform": [{"filter": "datum.kind === 'tab'"}],
          "mark": {"type": "rule", "color": "#A0A0A0", "strokeWidth": 1},
          "encoding": {
            "x": {"field": "x1", "type": "quantitative", "axis": null},
            "y": {"datum": 0.1, "type": "quantitative", "axis": null},
            "y2": {"datum": 0.87}
          }
        },
        {
          "transform": [{"filter": "datum.kind === 'active'"}],
          "mark": {"type": "text", "align": "left", "baseline": "middle", "dx": 14.4, "fontSize": 16.5, "font": "Liberation Sans", "color": "#000000"},
          "encoding": {
            "x": {"field": "x0", "type": "quantitative", "axis": null},
            "y": {"datum": 0.45, "type": "quantitative", "axis": null},
            "text": {"field": "tab"}
          }
        },
        {
          "transform": [{"filter": "datum.kind === 'tab' || datum.kind === 'cut'"}],
          "mark": {"type": "text", "align": "left", "baseline": "middle", "dx": 15.5, "fontSize": 16.5, "font": "Liberation Sans", "color": "#6E6E6E"},
          "encoding": {
            "x": {"field": "x0", "type": "quantitative", "axis": null},
            "y": {"datum": 0.45, "type": "quantitative", "axis": null},
            "text": {"field": "tab"}
          }
        },
        {
          "transform": [{"filter": "datum.kind === 'arrowoff' || datum.kind === 'arrowon'"}],
          "mark": {"type": "rect", "color": "#F0F0F0"},
          "encoding": {
            "x": {"field": "x0", "type": "quantitative", "axis": null},
            "x2": {"field": "x1"},
            "y": {"datum": 0, "type": "quantitative", "axis": null},
            "y2": {"datum": 0.96}
          }
        },
        {
          "transform": [{"filter": "datum.kind === 'arrowoff'"}],
          "mark": {"type": "text", "align": "center", "baseline": "middle", "dx": 7, "fontSize": 11, "font": "DejaVu Sans", "color": "#B0B0B0"},
          "encoding": {
            "x": {"field": "x0", "type": "quantitative", "axis": null},
            "y": {"datum": 0.5, "type": "quantitative", "axis": null},
            "text": {"field": "tab"}
          }
        },
        {
          "transform": [{"filter": "datum.kind === 'arrowon'"}],
          "mark": {"type": "text", "align": "center", "baseline": "middle", "dx": 23, "fontSize": 11, "font": "DejaVu Sans", "color": "#000000"},
          "encoding": {
            "x": {"field": "x0", "type": "quantitative", "axis": null},
            "y": {"datum": 0.5, "type": "quantitative", "axis": null},
            "text": {"field": "tab"}
          }
        }
      ]
    }
  ]
}
